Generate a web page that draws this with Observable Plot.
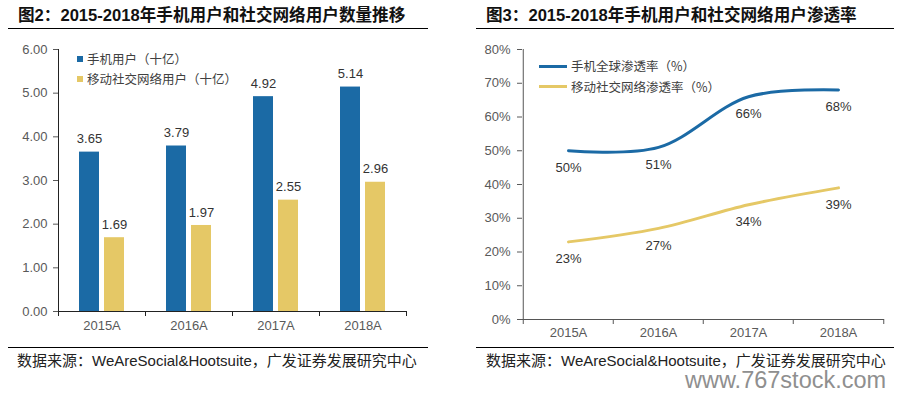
<!DOCTYPE html>
<html>
<head>
<meta charset="utf-8">
<script src="https://cdn.jsdelivr.net/npm/d3@7"></script>
<script src="https://cdn.jsdelivr.net/npm/@observablehq/plot@0.6"></script>
<style>
  html, body { margin: 0; padding: 0; background: #fff; }
  #root { position: relative; width: 908px; height: 397px; overflow: hidden; background: #fff;
          font-family: "Liberation Sans", Arial, "Noto Sans CJK SC", sans-serif; }
  .abs { position: absolute; white-space: nowrap; }
  .title { font-size: 16.6px; font-weight: bold; color: #111; line-height: 20px;
           font-family: "Liberation Sans", Arial, "Noto Sans CJK SC", sans-serif; }
  .hr { position: absolute; height: 0; border-top: 1px solid #000; }
  .src { font-size: 15px; color: #222; line-height: 12px;
         font-family: "Liberation Sans", Arial, "Noto Sans CJK SC", sans-serif; }
  .leg { font-size: 12.5px; color: #404040; line-height: 16px;
         font-family: "Noto Sans CJK SC", "Liberation Sans", sans-serif; }
  .wm { font-size: 23.5px; color: #8f8f8f; line-height: 18px; font-family: "Liberation Sans", Arial, sans-serif; }
</style>
</head>
<body>
<div id="root"></div>
<script>
// ---------- data ----------
const years = ["2015A", "2016A", "2017A", "2018A"];
const mobileUsers = [3.65, 3.79, 4.92, 5.14];      // 手机用户（十亿）
const socialUsers = [1.69, 1.97, 2.55, 2.96];      // 移动社交网络用户（十亿）
const barTicks = [0, 1, 2, 3, 4, 5, 6];
const mobilePen = [50, 51, 66, 68];                // 手机全球渗透率（%）
const socialPen = [23, 27, 34, 39];                // 移动社交网络渗透率（%）
const penTicks = [0, 10, 20, 30, 40, 50, 60, 70, 80];

const titleLeft = "图2：2015-2018年手机用户和社交网络用户数量推移";
const titleRight = "图3：2015-2018年手机用户和社交网络用户渗透率";
const legendLeft = ["手机用户（十亿）", "移动社交网络用户（十亿）"];
const legendRight = ["手机全球渗透率（%）", "移动社交网络渗透率（%）"];
const source = "数据来源：WeAreSocial&Hootsuite，广发证券发展研究中心";
const watermark = "www.767stock.com";

const BLUE = "#1b6aa5";
const GOLD = "#e5c866";

const barData = years.map((year, i) => ({year, mobile: mobileUsers[i], social: socialUsers[i]}));
const penData = years.map((year, i) => ({year, mobile: mobilePen[i], social: socialPen[i]}));

const root = document.getElementById("root");
function add(html, cls, style) {
  const d = document.createElement("div");
  d.className = cls;
  d.style.cssText = style;
  d.textContent = html;
  root.appendChild(d);
  return d;
}

// ---------- left chart ----------
const LW = 454, LML = 58, LMR = 48;
const lbw = (LW - LML - LMR) / years.length;
const axisStyle = {fontFamily: "Liberation Sans, Arial, sans-serif", fontSize: "13px", color: "#595959", background: "transparent", overflow: "visible"};

const left = Plot.plot({
  width: LW, height: 305,
  marginLeft: LML, marginRight: LMR, marginTop: 14, marginBottom: 29,
  style: axisStyle,
  x: {type: "band", domain: years, padding: 0, label: null, tickSize: 0, tickPadding: 9},
  y: {domain: [0, 6], ticks: barTicks, tickFormat: d => d.toFixed(2), label: null, tickSize: 5, tickPadding: 6},
  marks: [
    Plot.barY(barData, {x: "year", y: "mobile", fill: BLUE, insetLeft: 21, insetRight: lbw - 41}),
    Plot.barY(barData, {x: "year", y: "social", fill: GOLD, insetLeft: 46, insetRight: lbw - 66}),
    Plot.text(barData, {x: "year", y: "mobile", text: d => d.mobile.toFixed(2), dx: -12.5, dy: -13, fill: "#333", fontSize: 13}),
    Plot.text(barData, {x: "year", y: "social", text: d => d.social.toFixed(2), dx: 12.5, dy: -13, fill: "#333", fontSize: 13}),
    Plot.ruleY([0], {stroke: "#222"}),
    Plot.ruleX([years[0]], {dx: -lbw / 2, stroke: "#222"}),
    Plot.ruleX(years, {x: d => d, y1: 0, y2: 0, insetBottom: -5, dx: -lbw / 2, stroke: "#222"}),
    Plot.ruleX([years[years.length - 1]], {x: d => d, y1: 0, y2: 0, insetBottom: -5, dx: lbw / 2, stroke: "#222"})
  ]
});

// ---------- right chart ----------
const RW = 454, RML = 68, RMR = 24;
const rbw = (RW - RML - RMR) / years.length;
const right = Plot.plot({
  width: RW, height: 310,
  marginLeft: RML, marginRight: RMR, marginTop: 14, marginBottom: 26,
  style: axisStyle,
  x: {type: "band", domain: years, padding: 0, label: null, tickSize: 0, tickPadding: 8},
  y: {domain: [0, 80], ticks: penTicks, tickFormat: d => d + "%", label: null, tickSize: 5, tickPadding: 7},
  marks: [
    Plot.ruleY([0], {stroke: "#555"}),
    Plot.ruleX([years[0]], {dx: -rbw / 2, stroke: "#555"}),
    Plot.ruleX(years, {x: d => d, y1: 0, y2: 0, insetBottom: -5, dx: -rbw / 2, stroke: "#555"}),
    Plot.ruleX([years[years.length - 1]], {x: d => d, y1: 0, y2: 0, insetBottom: -5, dx: rbw / 2, stroke: "#555"}),
    Plot.line(penData, {x: "year", y: "mobile", stroke: BLUE, strokeWidth: 3, curve: "catmull-rom"}),
    Plot.line(penData, {x: "year", y: "social", stroke: GOLD, strokeWidth: 3, curve: "catmull-rom"}),
    Plot.text(penData, {x: "year", y: "mobile", text: d => d.mobile + "%", dy: 17, fill: "#333", fontSize: 13}),
    Plot.text(penData, {x: "year", y: "social", text: d => d.social + "%", dy: 17, fill: "#333", fontSize: 13})
  ]
});

// ---------- layout ----------
add(titleLeft, "abs title", "left:18px;top:6px;");
add(titleRight, "abs title", "left:486px;top:6px;");
add("", "hr", "left:8px;top:28px;width:420px;");
add("", "hr", "left:476px;top:28px;width:418px;");

const lw = document.createElement("div");
lw.style.cssText = "position:absolute;left:0;top:35px;";
lw.appendChild(left);
root.appendChild(lw);

const rw = document.createElement("div");
rw.style.cssText = "position:absolute;left:454px;top:35px;";
rw.appendChild(right);
root.appendChild(rw);

// left legend (square swatches)
[BLUE, GOLD].forEach((c, i) => {
  add("", "abs", `left:77px;top:${56 + i * 20}px;width:6px;height:6px;background:${c};`);
  add(legendLeft[i], "abs leg", `left:87px;top:${51 + i * 20}px;`);
});
// right legend (line swatches)
[BLUE, GOLD].forEach((c, i) => {
  add("", "abs", `left:539px;top:${64.5 + i * 20.5}px;width:28px;height:3px;background:${c};`);
  add(legendRight[i], "abs leg", `left:571px;top:${58 + i * 20.5}px;`);
});

add("", "hr", "left:8px;top:347px;width:420px;");
add("", "hr", "left:476px;top:347px;width:418px;");
add(source, "abs src", "left:17px;top:355px;");
add(source, "abs src", "left:486px;top:355px;");
add(watermark, "abs wm", "left:685px;top:371px;");
</script>
</body>
</html>
